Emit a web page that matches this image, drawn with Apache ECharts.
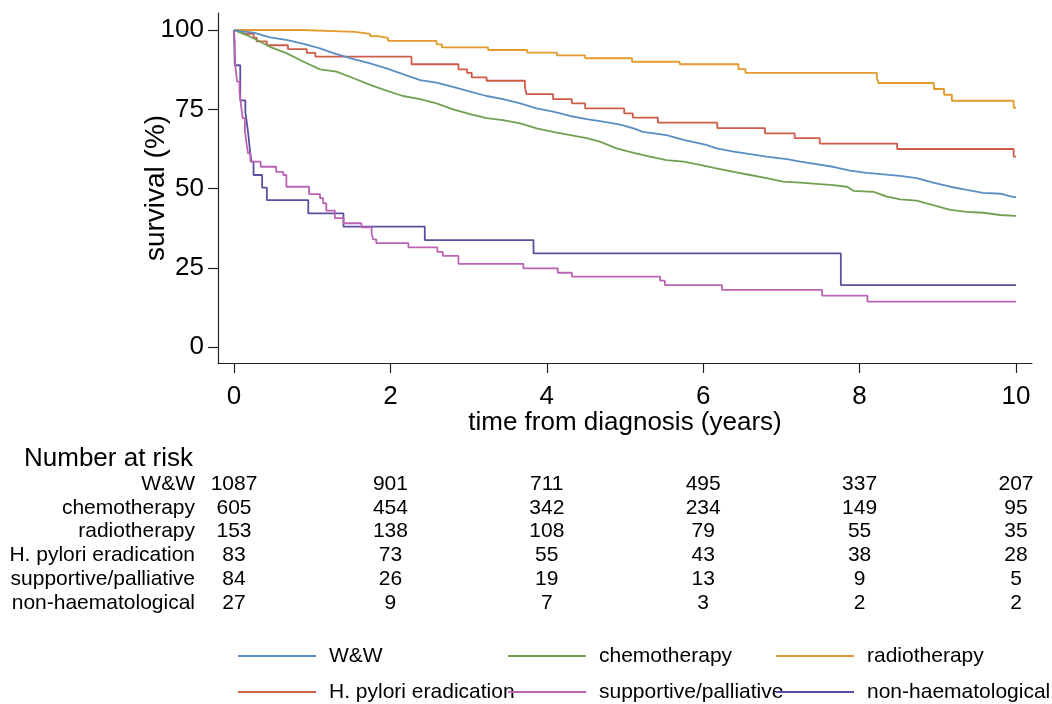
<!DOCTYPE html>
<html>
<head>
<meta charset="utf-8">
<script src="https://cdn.jsdelivr.net/npm/echarts@6/dist/echarts.min.js"></script>
<style>
  html, body { margin: 0; padding: 0; background: #fff; }
  #chart { width: 1052px; height: 704px; }
</style>
</head>
<body>
<div id="chart"></div>
<script>
// Kaplan-Meier survival by first-line management, with number-at-risk table

const groups = ['W&W', 'chemotherapy', 'radiotherapy', 'H. pylori eradication',
                'supportive/palliative', 'non-haematological'];
const groupColors = ['#5a8ec3', '#71a053', '#e39b2d', '#cd5c48', '#bb63b5', '#5c4e9e'];

// large groups: survival (%) sampled along the curve at these times (years)
const wwTime = [0, 0.1, 0.25, 0.46, 0.67, 0.89, 1.10, 1.27, 1.53, 1.74, 1.95, 2.16, 2.38, 2.59, 2.80,
  3.02, 3.23, 3.44, 3.66, 3.87, 4.08, 4.30, 4.51, 4.72, 4.94, 5.11, 5.23, 5.53, 5.75, 6.04, 6.17,
  6.39, 6.60, 6.81, 7.09, 7.24, 7.66, 7.88, 8.09, 8.52, 8.73, 8.94, 9.16, 9.37, 9.58, 9.80, 9.97, 10.0];
const wwSurv = [100, 99.6, 99.2, 97.7, 96.9, 95.6, 94.2, 92.7, 90.8, 89.5, 87.9, 86.1, 84.2, 83.4, 82.1,
  80.6, 79.2, 78.2, 76.9, 75.3, 74.3, 72.9, 71.9, 71.1, 70.2, 69.0, 67.9, 66.9, 65.4, 63.8, 62.7,
  61.7, 60.9, 60.1, 59.2, 58.5, 56.9, 55.7, 55.0, 54.0, 53.3, 51.9, 50.6, 49.6, 48.7, 48.4, 47.3, 47.3];

const chemoTime = [0, 0.08, 0.16, 0.25, 0.46, 0.67, 0.89, 1.10, 1.31, 1.53, 1.74, 1.95, 2.16, 2.38, 2.59,
  2.80, 3.02, 3.23, 3.44, 3.66, 3.87, 4.08, 4.30, 4.51, 4.68, 4.89, 5.11, 5.32, 5.53, 5.75, 5.96,
  6.17, 6.39, 6.60, 6.81, 7.02, 7.24, 7.66, 7.84, 7.92, 8.18, 8.35, 8.52, 8.73, 8.94, 9.16, 9.37,
  9.58, 9.80, 9.99, 10.0];
const chemoSurv = [100, 99.2, 98.4, 97.4, 94.7, 92.7, 90.0, 87.6, 86.9, 84.8, 82.7, 80.9, 79.2, 78.2, 76.9,
  75.0, 73.5, 72.2, 71.6, 70.6, 69.0, 67.9, 66.9, 65.9, 64.8, 62.7, 61.3, 60.1, 59.0, 58.5, 57.5,
  56.4, 55.3, 54.3, 53.3, 52.2, 51.9, 51.1, 50.6, 49.3, 49.0, 47.5, 46.6, 46.2, 44.8, 43.3, 42.7,
  42.4, 41.7, 41.4, 41.4];

// smaller groups: step points, survival (%) from that time onward
const radioTime = [0, 0.87, 1.55, 1.74, 1.84, 1.97, 2.59, 2.66, 3.25, 3.75, 4.13, 4.49, 5.09, 5.70,
  6.45, 6.54, 8.22, 8.24, 8.95, 9.08, 9.18, 9.97, 10.0];
const radioSurv = [100, 99.4, 98.8, 98.1, 97.5, 96.6, 95.5, 94.5, 93.7, 92.9, 92.0, 91.1, 90.0, 89.2,
  87.7, 86.5, 85.0, 83.3, 81.4, 79.6, 77.7, 75.5, 75.5];

const hpTime = [0, 0.12, 0.25, 0.29, 0.42, 0.69, 0.93, 1.04, 2.27, 2.87, 2.98, 3.04, 3.23, 3.72, 3.74,
  4.08, 4.32, 4.49, 4.99, 5.10, 5.42, 6.18, 6.79, 7.17, 7.49, 8.48, 9.97, 10.0];
const hpSurv = [100, 98.8, 97.6, 96.4, 95.2, 94.0, 92.8, 91.6, 89.2, 87.6, 86.5, 85.1, 84.0, 82.1, 79.8,
  78.2, 76.9, 75.3, 73.7, 72.4, 70.8, 69.1, 67.4, 65.9, 64.2, 62.5, 60.1, 60.1];

const suppTime = [0, 0.01, 0.015, 0.03, 0.04, 0.07, 0.09, 0.11, 0.14, 0.16, 0.18, 0.21, 0.34, 0.54, 0.63,
  0.67, 0.96, 1.10, 1.14, 1.18, 1.29, 1.40, 1.63, 1.76, 1.78, 1.82, 2.23, 2.60, 2.67, 2.87, 3.70,
  4.14, 4.32, 5.45, 5.51, 6.24, 7.52, 8.10, 10.0];
const suppSurv = [100, 95.3, 89.0, 85.8, 83.7, 80.6, 76.4, 72.2, 68.0, 64.3, 61.1, 58.5, 56.9, 55.3, 54.3,
  50.6, 48.3, 47.0, 45.4, 43.1, 40.7, 39.1, 37.8, 35.9, 34.0, 32.8, 31.5, 30.1, 28.8, 26.3, 24.9,
  23.5, 22.3, 21.0, 19.6, 18.1, 16.3, 14.4, 14.4];

const nonhTime = [0, 0.01, 0.08, 0.145, 0.166, 0.185, 0.20, 0.22, 0.25, 0.36, 0.42, 0.95, 1.40, 2.44,
  3.83, 7.76, 10.0];
const nonhSurv = [100, 88.9, 77.8, 74.1, 70.4, 66.7, 63.0, 58.5, 54.3, 50.3, 46.4, 42.2, 38.0, 33.8,
  29.6, 19.6, 19.6];

// number at risk
const riskTimes = [0, 2, 4, 6, 8, 10];
const riskWW = [1087, 901, 711, 495, 337, 207];
const riskChemo = [605, 454, 342, 234, 149, 95];
const riskRadio = [153, 138, 108, 79, 55, 35];
const riskHp = [83, 73, 55, 43, 38, 28];
const riskSupp = [84, 26, 19, 13, 9, 5];
const riskNonh = [27, 9, 7, 3, 2, 2];

const xTicks = [0, 2, 4, 6, 8, 10];
const yTicks = [0, 25, 50, 75, 100];

const curves = [
  [wwTime, wwSurv], [chemoTime, chemoSurv], [radioTime, radioSurv],
  [hpTime, hpSurv], [suppTime, suppSurv], [nonhTime, nonhSurv]
];
// the two large groups have many tiny steps and are drawn through their samples
const curveStep = [false, false, 'end', 'end', 'end', 'end'];
const riskRows = [riskWW, riskChemo, riskRadio, riskHp, riskSupp, riskNonh];

const FONT = "'Liberation Sans', Arial, sans-serif";
const AXIS_COLOR = '#222';

// x range padded so the axis line runs a little past 0 and 10
const X_MIN = -0.2046, X_MAX = 10.2046;
const Y_MIN = -4.95, Y_MAX = 105.36;

const kmSeries = curves.map(function (c, i) {
  return {
    name: groups[i],
    type: 'line',
    xAxisIndex: 0, yAxisIndex: 0,
    step: curveStep[i],
    symbol: 'none',
    z: 10 - i,
    lineStyle: { color: groupColors[i], width: 1.8 },
    itemStyle: { color: groupColors[i] },
    data: c[0].map(function (t, k) { return [t, c[1][k]]; })
  };
});

const riskData = [];
riskRows.forEach(function (row, g) {
  row.forEach(function (n, k) { riskData.push([riskTimes[k], groups[g], n]); });
});

// table cells: tiny white anchors carrying the counts as labels
const riskSeries = {
  type: 'scatter',
  xAxisIndex: 1, yAxisIndex: 1,
  symbolSize: 1,
  silent: true,
  itemStyle: { color: '#fff', opacity: 1 },
  label: {
    show: true, position: 'inside', color: '#000', textBorderWidth: 0, opacity: 1,
    fontFamily: FONT, fontSize: 21,
    formatter: function (p) { return String(p.value[2]); }
  },
  data: riskData
};

// legend laid out as a 3 x 2 grid of entries
const legendCols = [238, 508, 776];
const legendRows = [644, 680];
const legends = groups.map(function (g, i) {
  return {
    data: [g],
    left: legendCols[i % 3],
    top: legendRows[Math.floor(i / 3)],
    icon: 'rect',
    itemWidth: 78,
    itemHeight: 2,
    selectedMode: false,
    padding: 0,
    textStyle: { fontFamily: FONT, fontSize: 21, color: '#000', lineHeight: 24, padding: [0, 0, 0, 8] }
  };
});

const option = {
  animation: false,
  backgroundColor: '#fff',
  title: {
    text: 'Number at risk',
    left: 24, top: 446, padding: 0,
    textStyle: { fontFamily: FONT, fontSize: 26, fontWeight: 'normal', color: '#000' }
  },
  legend: legends,
  grid: [
    { left: 218, right: 20, top: 13, bottom: 341 },
    { left: 218, right: 20, top: 472, height: 143 }
  ],
  xAxis: [
    {
      gridIndex: 0, type: 'value', min: X_MIN, max: X_MAX,
      name: 'time from diagnosis (years)', nameLocation: 'middle', nameGap: 47,
      nameMoveOverlap: false,
      nameTextStyle: { fontFamily: FONT, fontSize: 26, color: '#000' },
      axisLine: { show: true, onZero: false, lineStyle: { color: AXIS_COLOR, width: 1.2 } },
      axisTick: { show: true, length: 10, customValues: xTicks, lineStyle: { color: AXIS_COLOR, width: 1.2 } },
      axisLabel: { customValues: xTicks, margin: 21, fontFamily: FONT, fontSize: 26, color: '#000' },
      splitLine: { show: false }
    },
    {
      gridIndex: 1, type: 'value', min: X_MIN, max: X_MAX, show: false
    }
  ],
  yAxis: [
    {
      gridIndex: 0, type: 'value', min: Y_MIN, max: Y_MAX,
      name: 'survival (%)', nameLocation: 'middle', nameGap: 48, nameRotate: 90,
      nameMoveOverlap: false,
      nameTextStyle: { fontFamily: FONT, fontSize: 28, color: '#000' },
      axisLine: { show: true, onZero: false, lineStyle: { color: AXIS_COLOR, width: 1.2 } },
      axisTick: { show: true, length: 10, customValues: yTicks, lineStyle: { color: AXIS_COLOR, width: 1.2 } },
      axisLabel: { customValues: yTicks, margin: 14, fontFamily: FONT, fontSize: 26, color: '#000' },
      splitLine: { show: false }
    },
    {
      gridIndex: 1, type: 'category', data: groups, inverse: true,
      axisLine: { show: false }, axisTick: { show: false }, splitLine: { show: false },
      axisLabel: { interval: 0, margin: 23, fontFamily: FONT, fontSize: 21, color: '#000' }
    }
  ],
  series: kmSeries.concat([riskSeries])
};

const chart = echarts.init(document.getElementById('chart'), null, { renderer: 'canvas' });
chart.setOption(option);
</script>
</body>
</html>
